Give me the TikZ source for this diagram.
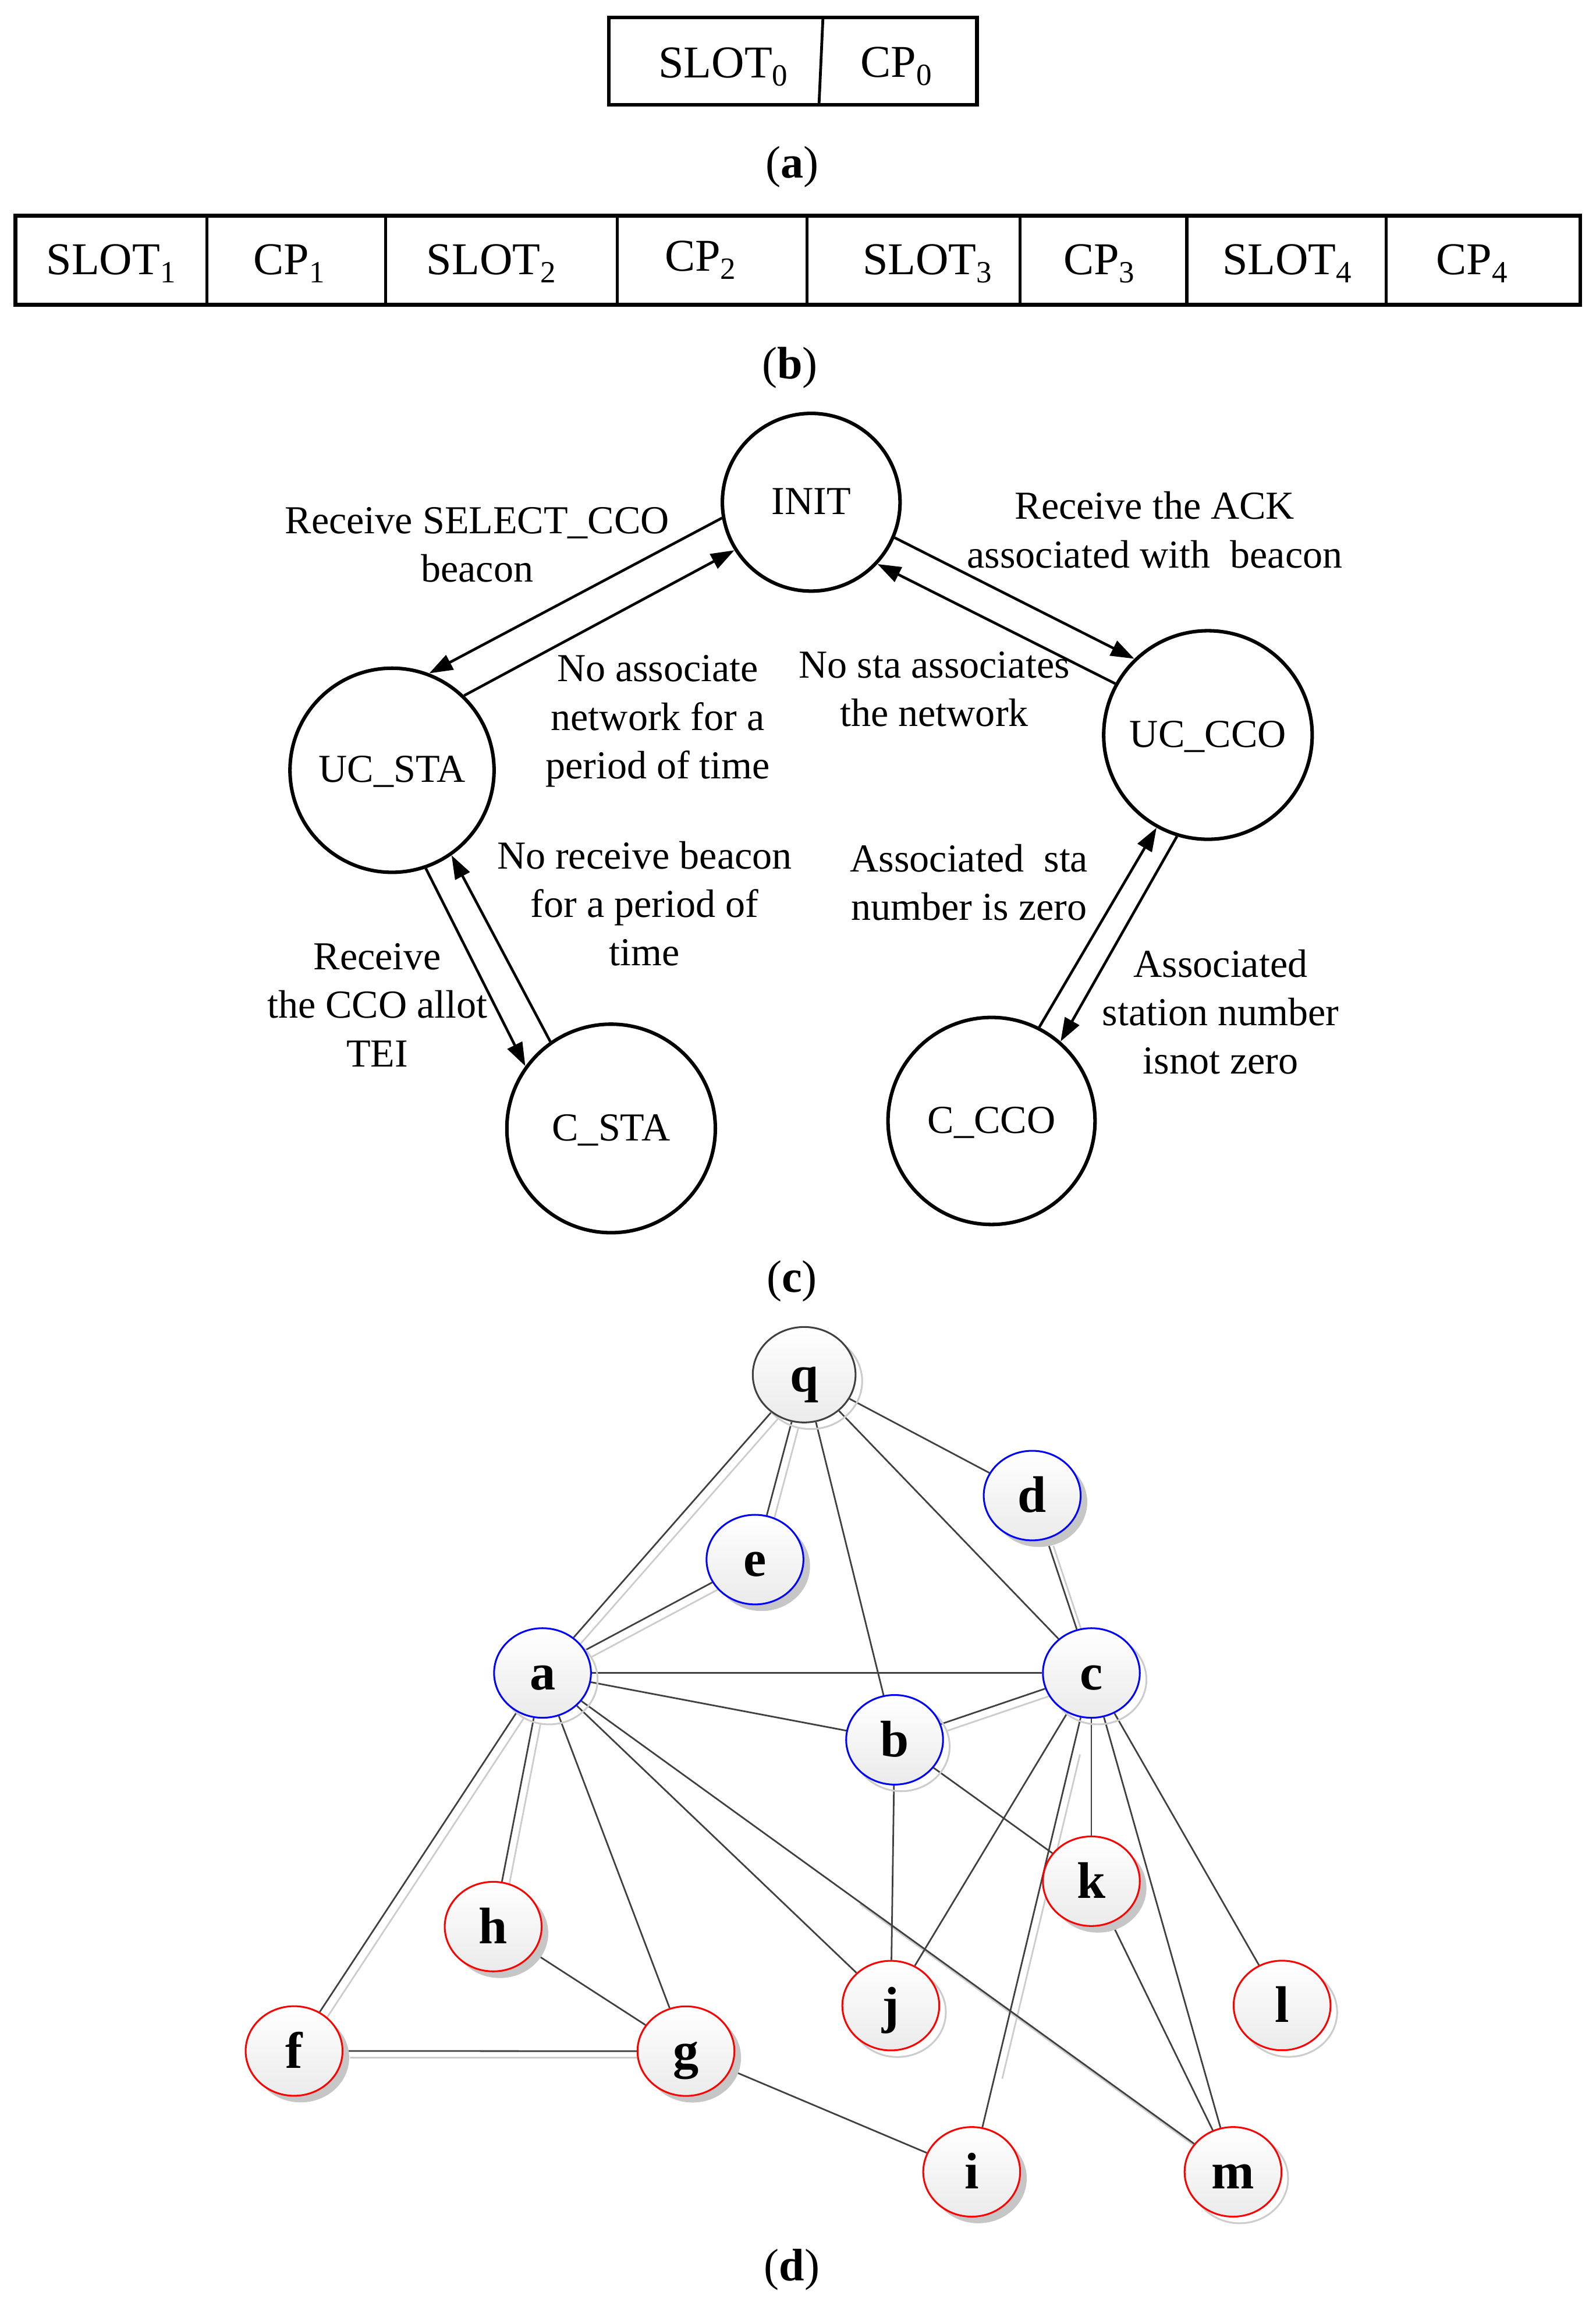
\documentclass[tikz,border=0pt]{standalone}
\usepackage{fontspec}
\setmainfont{Liberation Serif}
\usetikzlibrary{arrows.meta,shapes.geometric,backgrounds,calc}
\newcommand\mysub[1]{\raisebox{-5.5pt}{\fontsize{21}{21}\selectfont #1}}
\begin{document}
\begin{tikzpicture}[x=1pt,y=-1pt,
  slot/.style={font=\fontsize{31}{37}\selectfont, anchor=base, inner sep=0pt},
  captxt/.style={font=\fontsize{31}{37}\selectfont, anchor=base, inner sep=0pt},
  state/.style={circle, draw, line width=2.4pt, inner sep=0pt,
    font=\fontsize{27}{33}\selectfont, text height=16.5pt, text depth=0pt},
  trans/.style={line width=1.8pt, -{Triangle[length=16pt,width=11pt]}},
  lbl/.style={font=\fontsize{27}{33}\selectfont, anchor=base, inner sep=0pt},
  gnode/.style={ellipse, minimum width=66pt, minimum height=61pt, inner sep=0pt,
    line width=1.2pt, top color=white, bottom color=black!8,
    font=\fontsize{35}{35}\selectfont\bfseries, text height=23pt, text depth=0pt},
  bnode/.style={gnode, draw=blue},
  rnode/.style={gnode, draw=red},
  qnode/.style={gnode, draw=black!75, minimum width=70pt, minimum height=65pt},
  shfill/.style={preaction={fill=gray!45, transform canvas={shift={(4.5pt,-4.5pt)}}}},
  shring/.style={preaction={draw=gray!40, line width=1.2pt, transform canvas={shift={(4.5pt,-4.5pt)}}}},
  gedge/.style={draw=black!75, line width=1.1pt},
  eshadow/.style={draw=black!20, line width=1.1pt}
]
\begin{scope}[on background layer]
\fill[white] (0,0) rectangle (1087,1565.5);
\end{scope}
\useasboundingbox (0,0) rectangle (1087,1565.5);

% (a)
\draw[line width=2.6pt] (414.7,11.9) rectangle (665.3,71.4);
\draw[line width=1.9pt] (560.5,11.9) -- (557.8,71.4);
\node[slot] (s0) at (492.5,52.9) {SLOT\mysub{0}};
\node[slot] (p0) at (610.3,52.5) {CP\mysub{0}};
\node[captxt] (capa) at (539.7,121) {(\textbf{a})};

% (b)
\draw[line width=2.7pt] (10.6,147) rectangle (1076.3,207.6);
\foreach \xx in {141,262.6,420.4,549.5,694.6,808.3,944.2}
  \draw[line width=2pt] (\xx,147) -- (\xx,207.6);
\node[slot] (s1) at (75.6,187) {SLOT\mysub{1}};
\node[slot] (p1) at (196.8,187) {CP\mysub{1}};
\node[slot] (s2) at (334.5,187) {SLOT\mysub{2}};
\node[slot] (p2) at (477,184.7) {CP\mysub{2}};
\node[slot] (s3) at (631.6,187) {SLOT\mysub{3}};
\node[slot] (p3) at (748.5,187) {CP\mysub{3}};
\node[slot] (s4) at (876.6,187) {SLOT\mysub{4}};
\node[slot] (p4) at (1002.4,187) {CP\mysub{4}};
\node[captxt] (capb) at (538,257.7) {(\textbf{b})};

% (c)
\node[state, minimum size=121pt] (INIT) at (552.5,342) {INIT};
\node[state, minimum size=139pt] (UCSTA) at (267,524.5) {UC\_STA};
\node[state, minimum size=142pt] (UCCCO) at (822.7,500.5) {UC\_CCO};
\node[state, minimum size=142pt] (CSTA) at (416.2,768.4) {C\_STA};
\node[state, minimum size=141pt] (CCCO) at (675.3,763.3) {C\_CCO};

\draw[trans] (INIT.190.8) -- (UCSTA.69.3);
\draw[trans] (UCSTA.46.9) -- (INIT.212.8);
\draw[trans] (INIT.337.3) -- (UCCCO.134.5);
\draw[trans] (UCCCO.151.7) -- (INIT.317.4);
\draw[trans] (UCSTA.289.3) -- (CSTA.144.4);
\draw[trans] (CSTA.125.7) -- (UCSTA.305.9);
\draw[trans] (CCCO.63.3) -- (UCCCO.241.4);
\draw[trans] (UCCCO.253.3) -- (CCCO.49);

\node[lbl] (t1) at (325,363.4) {\begin{tabular}[t]{@{}c@{}}Receive SELECT\_CCO\\beacon\end{tabular}};
\node[lbl] (t2) at (448,464.2) {\begin{tabular}[t]{@{}c@{}}No associate\\network for a\\period of time\end{tabular}};
\node[lbl] (t3) at (636.3,461.6) {\begin{tabular}[t]{@{}c@{}}No sta associates\\the network\end{tabular}};
\node[lbl] (t4) at (786.5,353.6) {\begin{tabular}[t]{@{}c@{}}Receive the ACK\\associated with\ \ beacon\end{tabular}};
\node[lbl] (t5) at (439,591.6) {\begin{tabular}[t]{@{}c@{}}No receive beacon\\for a period of\\time\end{tabular}};
\node[lbl] (t6) at (257,660.3) {\begin{tabular}[t]{@{}c@{}}Receive\\the CCO allot\\TEI\end{tabular}};
\node[lbl] (t7) at (660,593.6) {\begin{tabular}[t]{@{}c@{}}Associated\ \ sta\\number is zero\end{tabular}};
\node[lbl] (t8) at (831.3,665.4) {\begin{tabular}[t]{@{}c@{}}Associated\\station number\\isnot zero\end{tabular}};
\node[captxt] (capc) at (539.3,880) {(\textbf{c})};

% (d)
\node[qnode, shring] (q) at (547.7,936.1) {q};
\node[bnode, shfill] (d) at (703,1018.4) {d};
\node[bnode, shfill] (e) at (514.2,1062) {e};
\node[bnode, shring] (a) at (369.5,1139.2) {a};
\node[bnode, shring] (c) at (743.3,1139.2) {c};
\node[bnode, shring] (b) at (609.3,1184.7) {b};
\node[rnode, shfill] (k) at (743.3,1281) {k};
\node[rnode, shfill] (h) at (335.9,1311.9) {h};
\node[rnode, shring] (j) at (606.7,1365.7) {j};
\node[rnode, shring] (l) at (873.2,1365.6) {l};
\node[rnode, shfill] (f) at (200.3,1396.6) {f};
\node[rnode, shfill] (g) at (467.2,1396.7) {g};
\node[rnode, shfill] (i) at (661.8,1478.9) {i};
\node[rnode, shring] (m) at (839.8,1478.9) {m};
\node[captxt] (capd) at (539.3,1553) {(\textbf{d})};

\begin{scope}[on background layer]
  \begin{scope}[transform canvas={shift={(4.5pt,-4.5pt)}}]
    \draw[eshadow] (q) -- (a);
    \draw[eshadow] (q) -- (e);
    \draw[eshadow] (e) -- (a);
    \draw[eshadow] (d) -- (c);
    \draw[eshadow] (a) -- (f);
    \draw[eshadow] (a) -- (h);
    \draw[eshadow] (f) -- (g);
    \draw[eshadow] (b) -- (c);
    \draw[eshadow] ($(a)!0.45!(m)$) -- (m);
    \draw[eshadow] ($(c)!0.15!(i)$) -- ($(c)!0.8!(i)$);
  \end{scope}
  \draw[gedge] (q) -- (a);
  \draw[gedge] (q) -- (e);
  \draw[gedge] (q) -- (b);
  \draw[gedge] (q) -- (c);
  \draw[gedge] (q) -- (d);
  \draw[gedge] (d) -- (c);
  \draw[gedge] (e) -- (a);
  \draw[gedge] (a) -- (c);
  \draw[gedge] (a) -- (b);
  \draw[gedge] (a) -- (h);
  \draw[gedge] (a) -- (f);
  \draw[gedge] (a) -- (g);
  \draw[gedge] (a) -- (j);
  \draw[gedge] (a) -- (m);
  \draw[gedge] (c) -- (b);
  \draw[gedge] (c) -- (j);
  \draw[gedge] (c) -- (i);
  \draw[gedge] (c) -- (k);
  \draw[gedge] (c) -- (m);
  \draw[gedge] (c) -- (l);
  \draw[gedge] (b) -- (j);
  \draw[gedge] (b) -- (k);
  \draw[gedge] (k) -- (m);
  \draw[gedge] (h) -- (g);
  \draw[gedge] (f) -- (g);
  \draw[gedge] (g) -- (i);
\end{scope}
\end{tikzpicture}
\end{document}
